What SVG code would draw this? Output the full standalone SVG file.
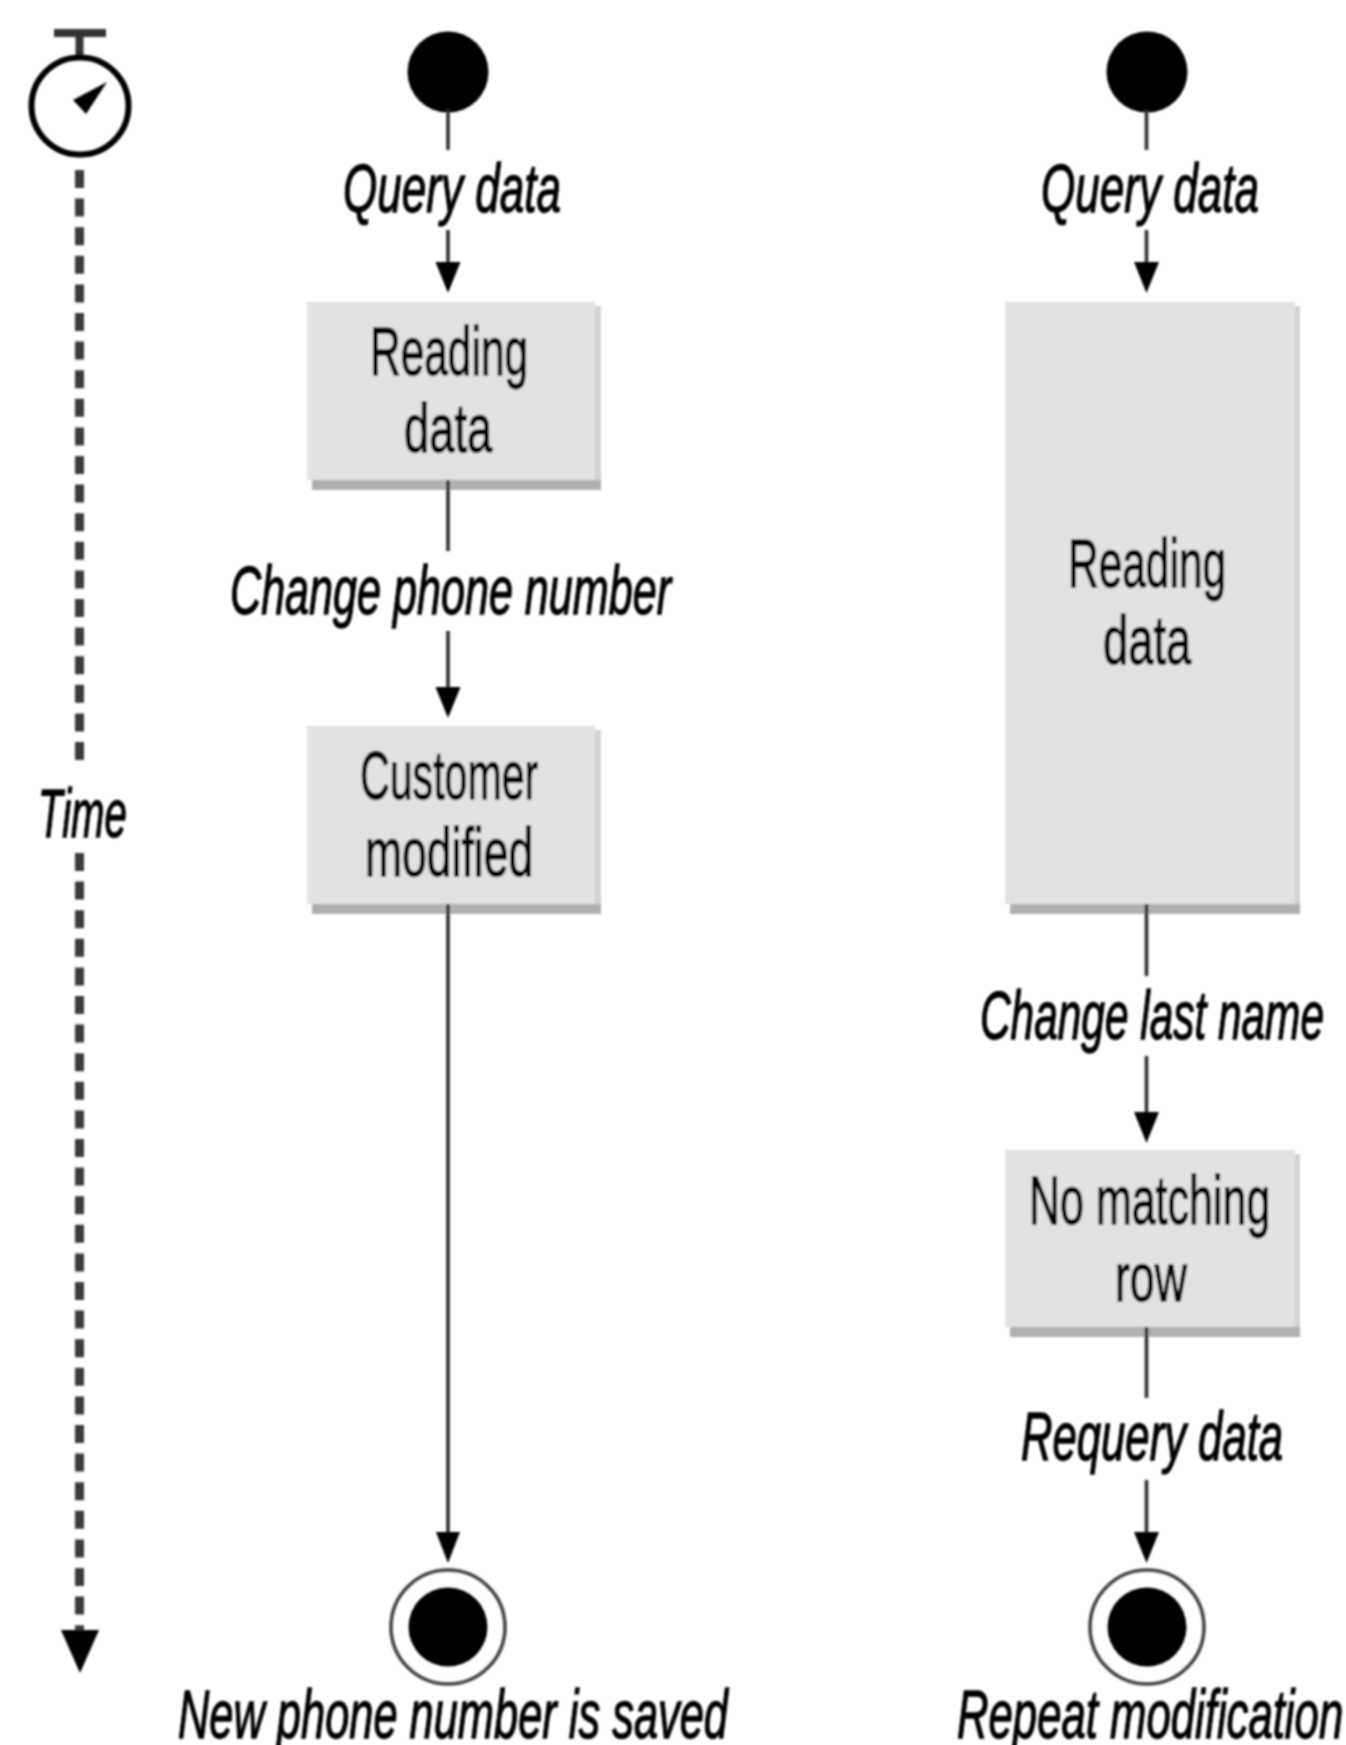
<svg xmlns="http://www.w3.org/2000/svg" width="1346" height="1745" viewBox="0 0 1346 1745">
<defs>
<filter id="soft" x="-5%" y="-5%" width="110%" height="110%"><feGaussianBlur stdDeviation="0.9"/></filter>
</defs>
<style>
text{font-family:"Liberation Sans",Arial,sans-serif;font-size:68px;fill:#000;stroke:#000;stroke-width:1.3}
.i{font-style:italic}
.face{fill:#e2e2e2}.sr{fill:#d3d3d3}.sb{fill:#b0b0b0}
.line{stroke:#2e2e2e;stroke-width:3.6;fill:none}
.head{fill:#000}
.dot{fill:#000}
.ring{fill:none;stroke:#444;stroke-width:3.6}
</style>
<rect width="1346" height="1745" fill="#fff"/>
<g filter="url(#soft)">
<g id="stopwatch">
<path d="M54 33H106" stroke="#333" stroke-width="8"/>
<path d="M79.5 33V58" stroke="#333" stroke-width="8"/>
<circle cx="80" cy="106" r="48.5" fill="none" stroke="#000" stroke-width="6"/>
<path class="head" d="M107 82L73 100L86 114Z"/>
</g>
<g id="time-label"><text class="i" transform="translate(38 837) scale(.63 1)" textLength="141" lengthAdjust="spacingAndGlyphs">Time</text></g>
<g id="start-left"><circle class="dot" cx="448" cy="72" r="40.5"/></g>
<g id="start-right"><circle class="dot" cx="1147" cy="72" r="40.5"/></g>
<g id="label-query-left"><text class="i" transform="translate(343 212) scale(.63 1)" textLength="346" lengthAdjust="spacingAndGlyphs">Query data</text></g>
<g id="label-query-right"><text class="i" transform="translate(1041 212) scale(.63 1)" textLength="346" lengthAdjust="spacingAndGlyphs">Query data</text></g>
<g id="reading-left">
<path class="sr" d="M595 306H601V490H595Z"/><path class="sb" d="M312 480H601V490H312Z"/><rect class="face" x="307" y="302" width="288" height="178"/>
<text transform="translate(370 375) scale(.63 1)" textLength="251" lengthAdjust="spacingAndGlyphs">Reading</text>
<text transform="translate(404 452) scale(.63 1)" textLength="140" lengthAdjust="spacingAndGlyphs">data</text>
</g>
<g id="label-change-phone"><text class="i" transform="translate(230 614) scale(.63 1)" textLength="700" lengthAdjust="spacingAndGlyphs">Change phone number</text></g>
<g id="customer-modified">
<path class="sr" d="M595 730H601V914H595Z"/><path class="sb" d="M312 904H601V914H312Z"/><rect class="face" x="307" y="726" width="288" height="178"/>
<text transform="translate(360 799) scale(.63 1)" textLength="283" lengthAdjust="spacingAndGlyphs">Customer</text>
<text transform="translate(365 876) scale(.63 1)" textLength="267" lengthAdjust="spacingAndGlyphs">modified</text>
</g>
<g id="end-left">
<circle cx="448" cy="1627" r="57" class="ring"/><circle class="dot" cx="448" cy="1627" r="39.5"/>
<text class="i" transform="translate(178 1738) scale(.63 1)" textLength="873" lengthAdjust="spacingAndGlyphs">New phone number is saved</text>
</g>
<g id="reading-right">
<path class="sr" d="M1295 306H1300V914H1295Z"/><path class="sb" d="M1010 904H1300V914H1010Z"/><rect class="face" x="1005" y="302" width="290" height="602"/>
<text transform="translate(1068 587) scale(.63 1)" textLength="251" lengthAdjust="spacingAndGlyphs">Reading</text>
<text transform="translate(1103 664) scale(.63 1)" textLength="140" lengthAdjust="spacingAndGlyphs">data</text>
</g>
<g id="label-change-last"><text class="i" transform="translate(980 1039) scale(.63 1)" textLength="546" lengthAdjust="spacingAndGlyphs">Change last name</text></g>
<g id="no-matching-row">
<path class="sr" d="M1295 1154H1300V1337H1295Z"/><path class="sb" d="M1010 1327H1300V1337H1010Z"/><rect class="face" x="1005" y="1150" width="290" height="177"/>
<text transform="translate(1029 1224) scale(.63 1)" textLength="383" lengthAdjust="spacingAndGlyphs">No matching</text>
<text transform="translate(1115 1301) scale(.63 1)" textLength="114" lengthAdjust="spacingAndGlyphs">row</text>
</g>
<g id="label-requery"><text class="i" transform="translate(1021 1460) scale(.63 1)" textLength="416" lengthAdjust="spacingAndGlyphs">Requery data</text></g>
<g id="end-right">
<circle cx="1147" cy="1627" r="57" class="ring"/><circle class="dot" cx="1147" cy="1627" r="39.5"/>
<text class="i" transform="translate(957 1738) scale(.63 1)" textLength="613" lengthAdjust="spacingAndGlyphs">Repeat modification</text>
</g>
<g id="connectors">
<path class="line" d="M448 110V150M448 230V270M448 480V551M448 631V695M448 904V1535"/>
<path class="line" d="M1146.5 110V150M1146.5 230V270M1146.5 904V976M1146.5 1056V1120M1146.5 1327V1398M1146.5 1480V1535"/>
<path class="head" d="M435.5 262H460.5L448 293ZM435.5 687H460.5L448 718ZM436 1532H460L448 1563Z"/>
<path class="head" d="M1134 262H1159L1146.5 293ZM1134 1112H1159L1146.5 1143ZM1134 1532H1159L1146.5 1563Z"/>
<path d="M79.5 170V770M79.5 853V1630" stroke="#3a3a3a" stroke-width="9" stroke-dasharray="18 10.6" fill="none"/>
<path class="head" d="M61 1630H99L80 1673Z"/>
</g>
</g>
</svg>
